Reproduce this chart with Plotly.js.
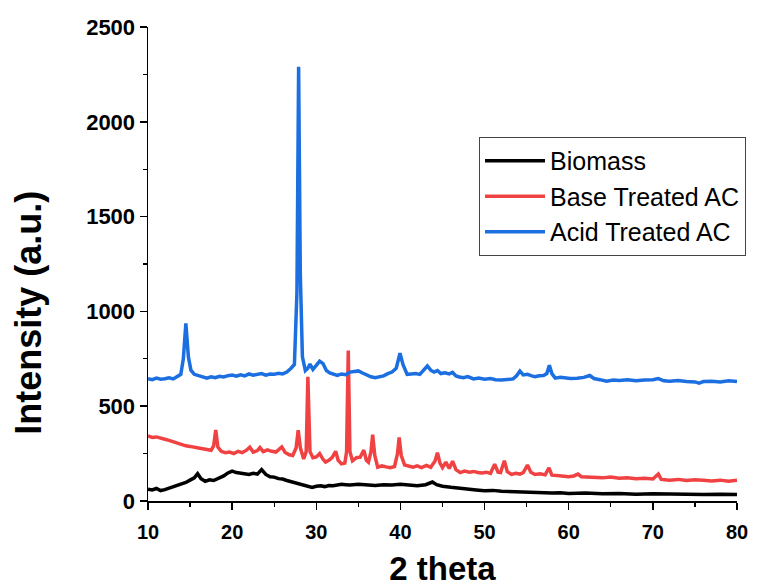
<!DOCTYPE html>
<html>
<head>
<meta charset="utf-8">
<script src="https://cdn.plot.ly/plotly-3.0.1.min.js"></script>
<style>html,body{margin:0;padding:0;background:#fff;}#chart{width:759px;height:587px;}</style>
</head>
<body>
<div id="chart"></div>
<script>
// Biomass (a)
const biomassX = [10,10.5,11,11.5,12,12.5,13,13.5,14,14.5,15,15.5,15.9,16.3,16.8,17.3,17.8,18.4,19,19.5,20,20.5,21,21.5,22,22.5,23,23.5,24,24.5,25,25.5,26,26.5,27,27.5,28,28.5,29,29.5,30,30.5,31,31.5,32,32.5,33,33.5,34,35,36,37,38,39,40,41,42,43,43.8,44.3,45,46,47,48,49,50,51,52,53,54,55,56,57,58,59,60,62,64,66,68,70,72,74,76,78,80];
const biomassY = [62,58,66,55,60,68,72,80,88,98,110,122,144,118,104,112,108,120,132,148,158,150,146,144,140,146,142,166,140,128,126,118,116,108,102,96,90,84,80,72,78,80,76,82,80,84,88,86,84,88,86,82,86,84,88,82,80,86,100,86,78,72,66,62,58,54,56,52,50,48,46,44,46,42,44,40,42,38,40,36,38,36,38,34,36,34];

// Base Treated AC (c)
const baseX = [10,10.5,11,11.5,12,12.5,13,13.5,14,14.5,15,15.5,16,16.5,17,17.5,17.8,18.05,18.3,18.7,19.2,19.7,20.2,20.7,21.2,21.7,22.1,22.5,23,23.3,23.7,24.2,24.7,25.2,25.9,26.3,26.8,27.2,27.6,27.85,28.1,28.5,28.8,29.0,29.25,29.6,30.0,30.4,30.8,31.1,31.5,31.9,32.3,32.6,33.0,33.4,33.6,33.8,34.0,34.3,34.8,35.2,35.65,35.95,36.2,36.5,36.7,36.95,37.3,37.8,38.3,38.8,39.3,39.65,39.85,40.1,40.5,41,41.5,42,42.5,43.1,43.6,44.1,44.4,44.7,45.0,45.4,45.8,46.2,46.6,47.1,47.6,48.2,48.7,49.2,49.7,50.2,50.7,51.2,51.6,51.9,52.35,52.7,53.2,53.7,54.2,54.6,55.1,55.5,56,56.6,57.2,57.65,58,58.6,59.2,60,60.6,61.1,61.5,62.2,63,64,65,66,67,68,69,70,70.65,71,72,73,74,75,76,77,78,79,80];
const baseY = [343,335,338,330,326,320,312,305,300,291,288,282,280,276,270,268,290,374,285,262,255,258,250,262,255,268,284,258,266,282,260,270,262,258,285,256,244,240,280,374,282,222,260,655,260,228,232,250,220,205,215,230,262,215,196,200,260,793,260,212,229,230,268,215,205,260,350,240,178,185,180,176,182,250,335,240,190,182,178,185,176,188,178,210,255,200,176,205,172,210,165,150,158,152,156,150,148,152,146,194,152,150,212,155,140,146,142,150,190,152,140,144,138,175,136,134,130,128,132,142,128,126,124,122,126,120,122,118,120,116,142,114,110,114,108,112,110,106,110,104,110];

// Acid Treated AC (b)
const acidX = [10,10.5,11,11.5,12,12.5,13,13.5,13.9,14.2,14.5,14.8,15.1,15.5,16,16.5,17,17.5,18,18.5,19,19.5,20,20.5,21,21.5,22,22.5,23,23.5,24,24.5,25,25.5,26,26.5,27,27.4,27.7,27.9,28.1,28.35,28.7,29.0,29.25,29.6,30.0,30.4,30.8,31.2,31.6,32,32.5,33,33.5,34,34.5,35,35.5,36,36.5,37,37.5,38,38.5,39,39.5,39.95,40.3,40.8,41.3,41.8,42.3,42.8,43.2,43.6,44,44.4,44.8,45.3,45.8,46.2,46.6,47,47.5,48,48.7,49.3,50,50.7,51.3,52,52.7,53.4,53.8,54.2,54.6,55.1,55.6,56,56.5,57,57.4,57.7,58,58.4,59,59.6,60.2,61,61.8,62.5,63,63.7,64.5,65.3,66,67,68,69,70,70.65,71.3,72,73,74,75,75.5,76,77,78,79,80];
const acidY = [645,640,648,642,645,650,644,655,668,750,937,760,690,668,660,652,648,655,650,658,654,661,664,658,666,660,670,664,668,672,664,670,668,674,670,680,700,720,1100,2290,1200,760,688,700,722,694,715,738,725,688,676,670,662,670,666,680,682,686,675,665,655,650,656,660,672,680,700,780,720,668,670,672,668,690,712,690,680,688,672,676,670,678,660,654,650,656,644,648,642,646,640,638,642,644,660,685,665,668,660,656,660,662,672,716,672,648,652,650,646,648,652,662,646,640,632,638,636,640,634,638,640,646,634,632,636,630,628,622,630,632,628,634,630];

const seriesNames = ['Biomass', 'Base Treated AC', 'Acid Treated AC'];
const curveLabels = ['a', 'c', 'b'];
const labelY = [19, 146, 669];

const xTicks = [10,20,30,40,50,60,70,80];
const yTicks = [0,500,1000,1500,2000,2500];

const colors = ['#000000', '#F04242', '#1C6FE0'];
const FAM = 'Arial, "Liberation Sans", sans-serif';
const bold = {family: FAM, weight: 'bold', color: '#000'};

const traces = [
  {x: biomassX, y: biomassY, name: seriesNames[0]},
  {x: baseX, y: baseY, name: seriesNames[1]},
  {x: acidX, y: acidY, name: seriesNames[2]}
].map((t, i) => Object.assign(t, {type: 'scatter', mode: 'lines', line: {color: colors[i], width: 3.5}}));

const annotations = curveLabels.map((lab, i) => ({
  x: 80.9, y: labelY[i], xref: 'x', yref: 'y', text: lab, showarrow: false,
  xanchor: 'left', yanchor: 'middle',
  font: {family: FAM, size: 21, color: '#000'}
}));
annotations.push({
  xref: 'paper', yref: 'paper', x: -0.203, y: 0.398, text: 'Intensity (a.u.)', textangle: -90,
  showarrow: false, xanchor: 'center', yanchor: 'middle',
  font: Object.assign({size: 36}, bold)
});

const layout = {
  width: 759, height: 587,
  margin: {l: 148, r: 22, t: 27, b: 86, pad: 0},
  paper_bgcolor: '#fff', plot_bgcolor: '#fff',
  showlegend: true,
  legend: {
    x: 0.562, y: 0.768, xanchor: 'left', yanchor: 'top',
    bgcolor: '#fff', bordercolor: '#444', borderwidth: 1,
    font: {family: FAM, size: 25, color: '#000'},
    itemwidth: 60,
    tracegroupgap: 0
  },
  xaxis: {
    range: [10, 80], tickvals: xTicks, ticktext: xTicks.map(String),
    showline: true, linecolor: '#000', linewidth: 1.5, mirror: false,
    ticks: 'outside', ticklen: 7, tickwidth: 1.5, tickcolor: '#000',
    minor: {ticks: 'outside', ticklen: 4, tickwidth: 1.2, tickcolor: '#000', dtick: 5, showgrid: false},
    showgrid: false, zeroline: false,
    ticklabelstandoff: 5,
    tickfont: Object.assign({size: 20}, bold),
    title: {text: '2 theta', font: Object.assign({size: 33}, bold), standoff: 22}
  },
  yaxis: {
    range: [0, 2500], tickvals: yTicks, ticktext: yTicks.map(String),
    showline: true, linecolor: '#000', linewidth: 1.5, mirror: false,
    ticks: 'outside', ticklen: 7, tickwidth: 1.5, tickcolor: '#000',
    minor: {ticks: 'outside', ticklen: 4, tickwidth: 1.2, tickcolor: '#000', dtick: 250, showgrid: false},
    showgrid: false, zeroline: false,
    tickfont: Object.assign({size: 22}, bold)
  },
  annotations: annotations
};

Plotly.newPlot('chart', traces, layout, {displayModeBar: false, staticPlot: true});
</script>
</body>
</html>
